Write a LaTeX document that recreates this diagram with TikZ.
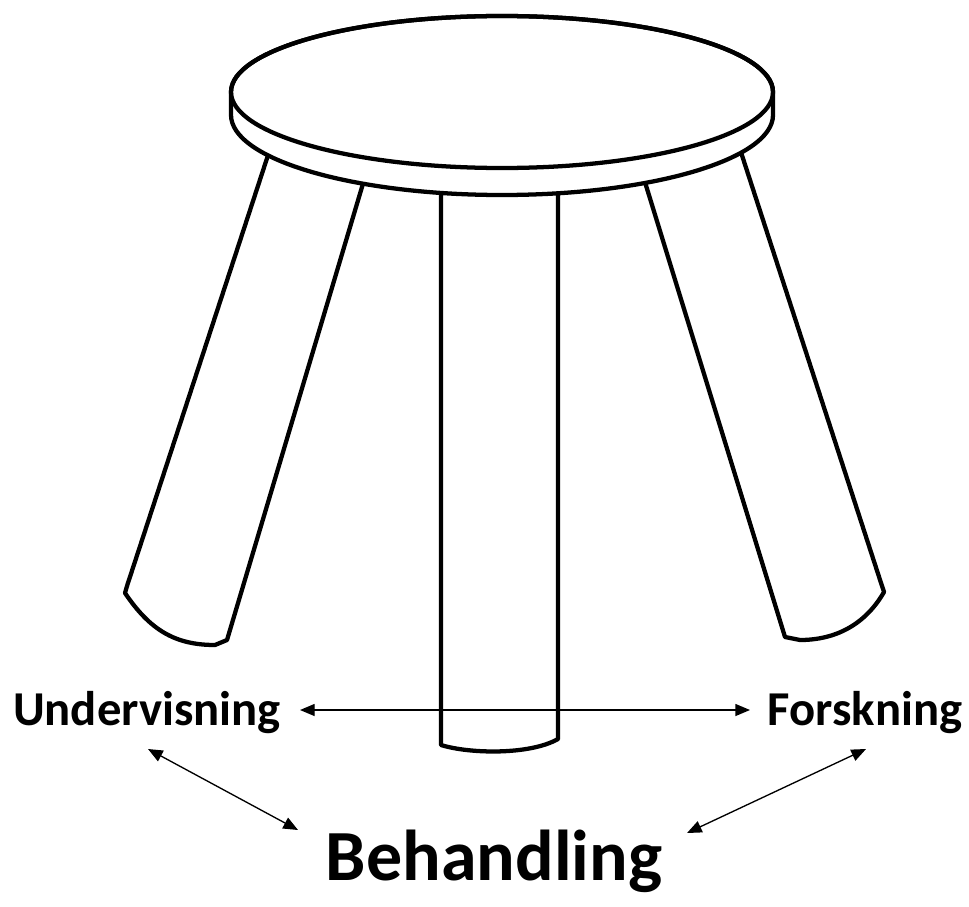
\documentclass[tikz,border=0pt]{standalone}
\usepackage{fontspec}
\setmainfont{Carlito}
\usetikzlibrary{arrows.meta}
\tikzset{
  stool/.style={line width=3.2pt, line join=round, line cap=round},
  word/.style={font=\bfseries\fontsize{36.5}{40}\selectfont, anchor=base, inner sep=0pt},
  bigword/.style={word, font=\bfseries\fontsize{54}{60}\selectfont},
  link/.style={{Triangle[length=11pt,width=9pt]}-{Triangle[length=11pt,width=9pt]}, line width=1pt}
}
\begin{document}
\begin{tikzpicture}[x=0.75pt, y=-0.75pt]
  \useasboundingbox (0,0) rectangle (969,906);
  \draw[stool] (273,140) -- (127,586) -- (125,593) .. controls (150,630) and (175,645) .. (215,645) -- (227,640) -- (376,140);
  \draw[stool] (441,150) -- (441,745) .. controls (470,754) and (530,755) .. (558,739) -- (558,150);
  \draw[stool] (632,140) -- (785,637) -- (800,640) .. controls (835,640) and (865,625) .. (884,592) -- (882,586) -- (737,140);
  \draw[stool, fill=white] (231,92) arc[start angle=180, end angle=360, x radius=271, y radius=76] -- (773,115) arc[start angle=0, end angle=180, x radius=271, y radius=80] -- cycle;
  \draw[stool] (502,92) ellipse[x radius=271, y radius=76];
  \node[word] (und) at (147,725) {Undervisning};
  \node[word] (fors) at (865,725) {Forskning};
  \node[bigword] (beh) at (494,880) {Behandling};
  \begin{scope}[link]
    \draw ([shift={(153,-15)}]und.base) to ([shift={(-115,-15)}]fors.base);
    \draw ([shift={(1,24)}]und.base) to ([shift={(-196,-50)}]beh.base);
    \draw ([shift={(1,24)}]fors.base) to ([shift={(193,-47)}]beh.base);
  \end{scope}
\end{tikzpicture}
\end{document}
